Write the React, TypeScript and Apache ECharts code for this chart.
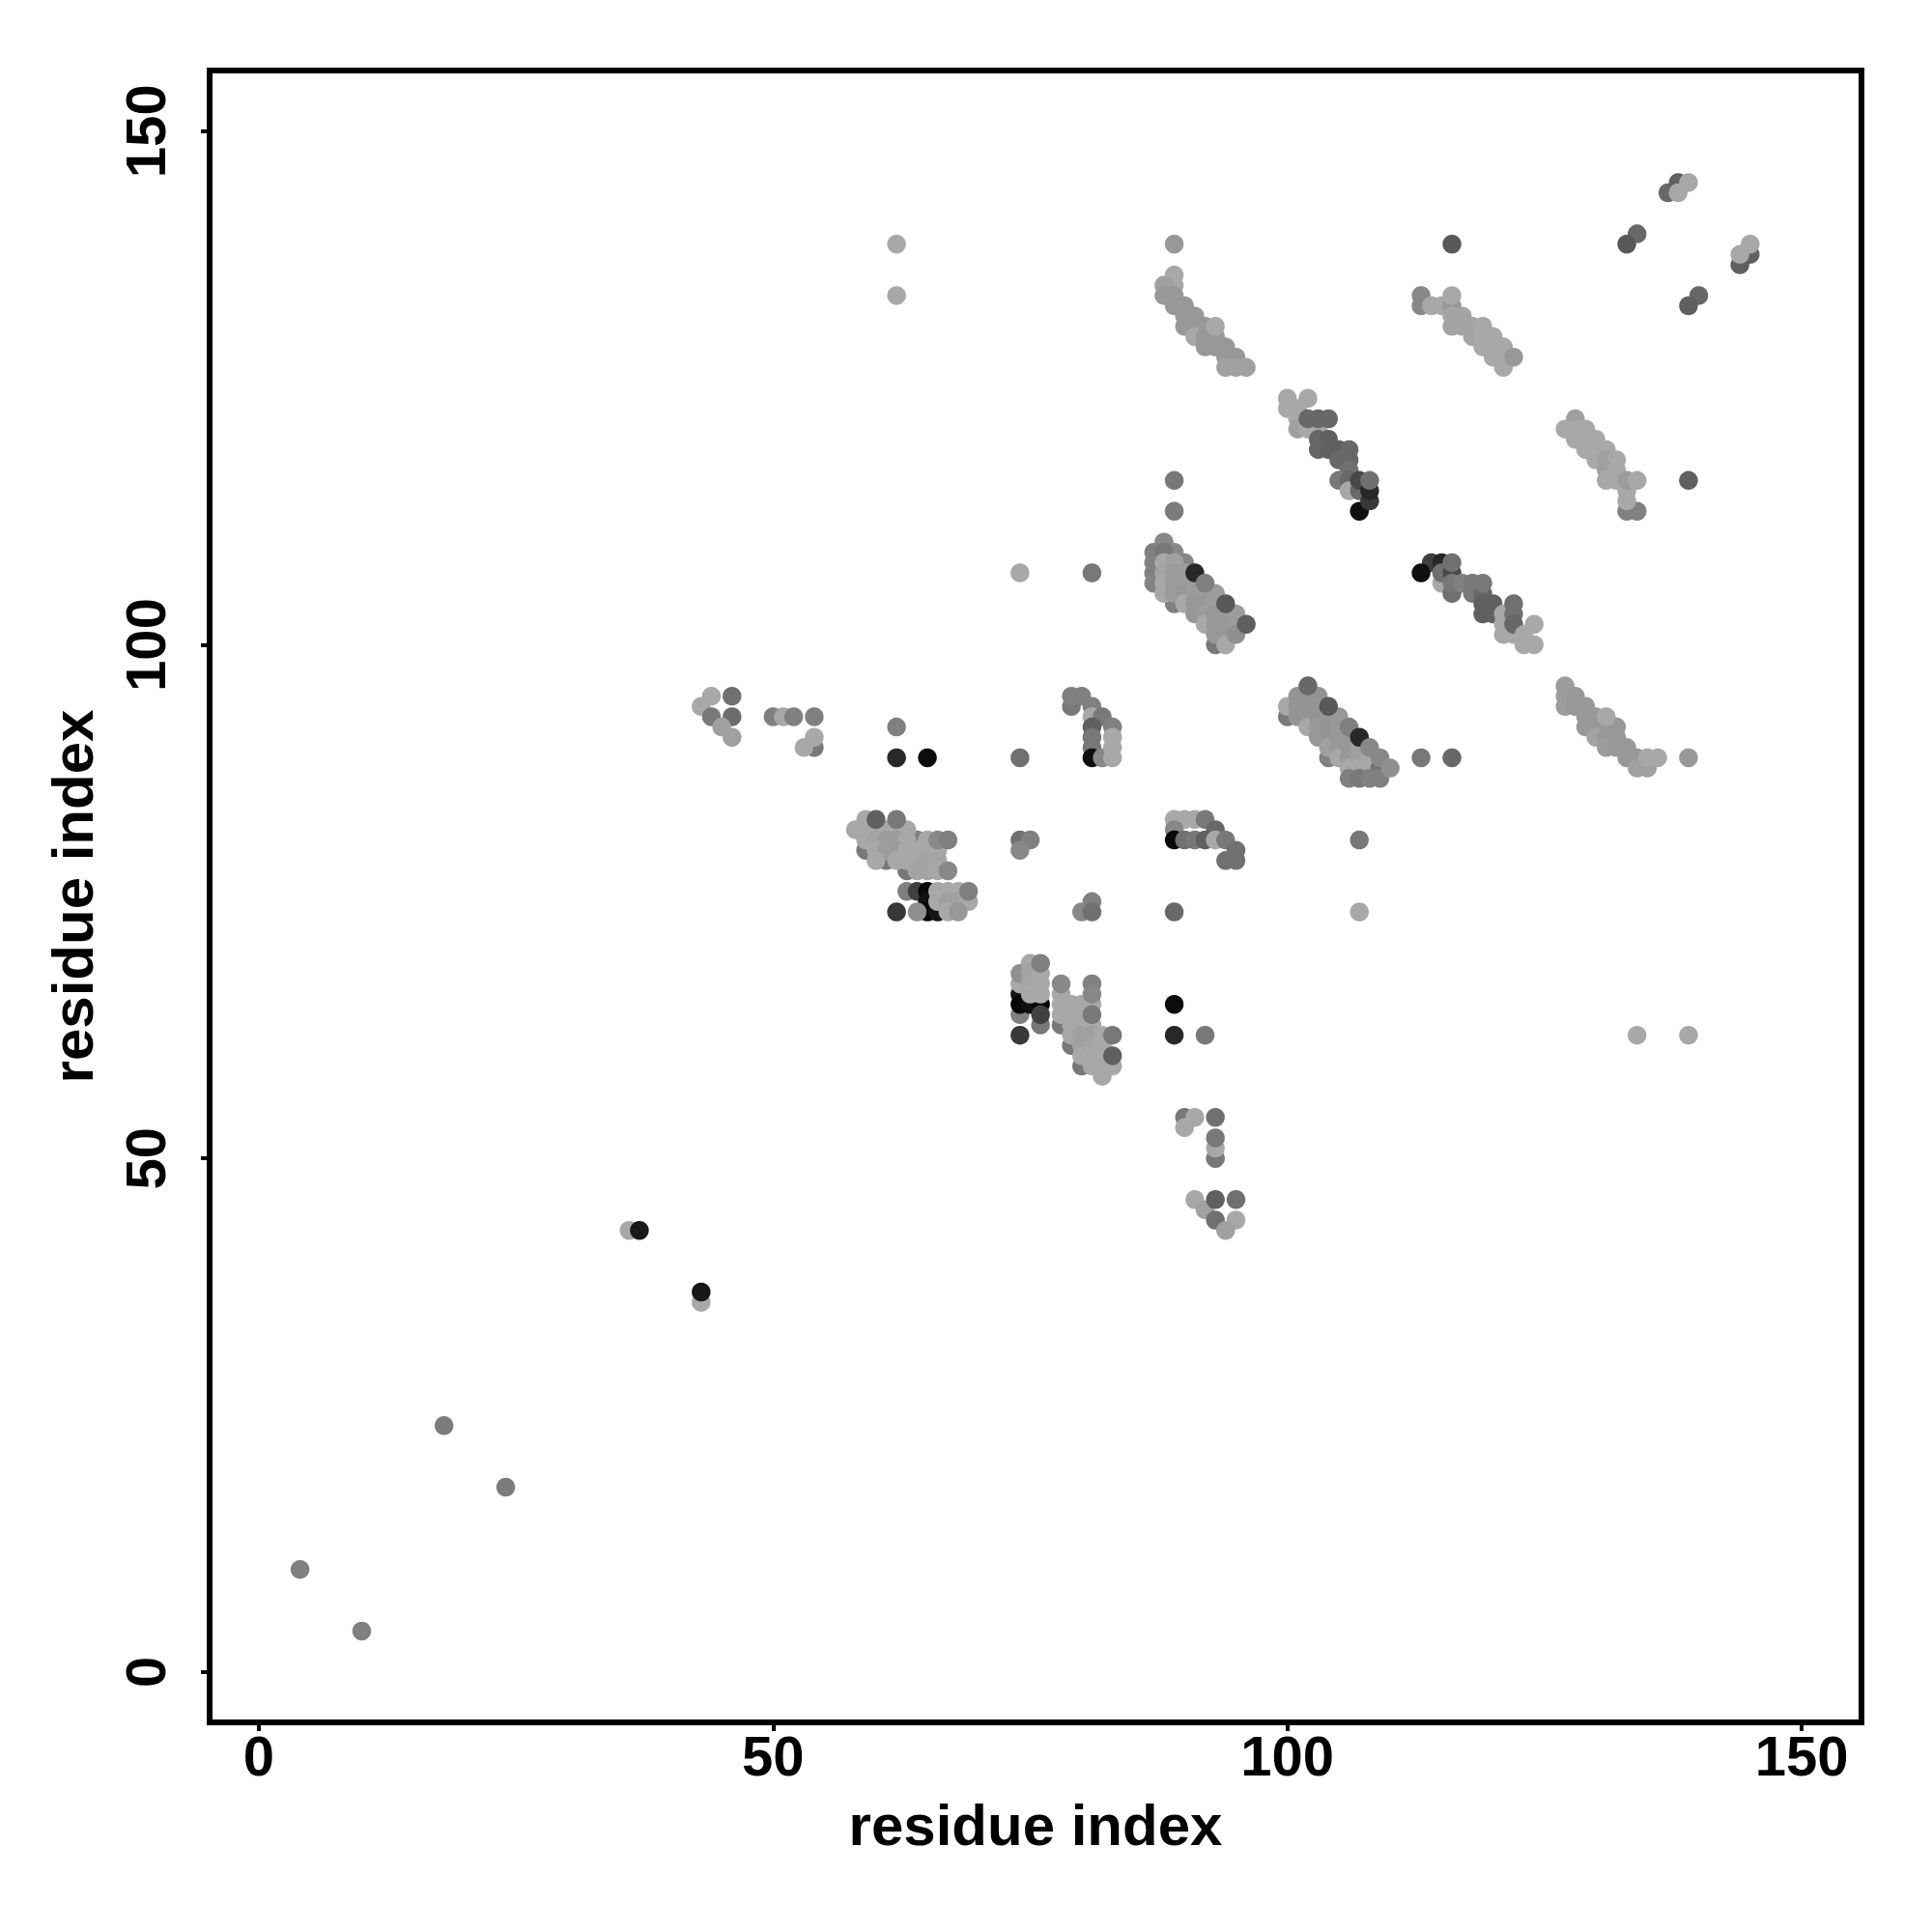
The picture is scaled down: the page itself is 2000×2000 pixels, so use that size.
import React, { useEffect, useRef } from "react";
import * as echarts from "echarts";

type Pt = [number, number, number];

const tickValues = [0, 50, 100, 150];
const xLabel = "residue index";
const yLabel = "residue index";

const sparsePairs: Pt[] = [
  [4, 10, 0x80], [10, 4, 0x80], [18, 24, 0x7c], [24, 18, 0x7c],
  [36, 43, 0xa8], [37, 43, 0x1a], [43, 36, 0xa8], [43, 37, 0x18],
  [62, 139, 0xa8], [62, 134, 0xa8], [134, 62, 0xa8], [139, 62, 0xa8],
  [89, 74, 0x68], [107, 81, 0x78], [107, 74, 0xa8], [74, 107, 0xa8], [81, 107, 0x78],
  [89, 116, 0x78], [89, 113, 0x7c], [116, 139, 0x58], [139, 116, 0x60], [107, 113, 0x10],
  [113, 89, 0x78], [116, 89, 0x68], [139, 89, 0x98], [89, 65, 0x0c], [89, 62, 0x28], [92, 62, 0x78],
  [137, 144, 0x68], [138, 145, 0x60], [138, 144, 0xa8], [139, 145, 0xa8],
  [134, 140, 0x68], [133, 139, 0x58], [144, 137, 0x60], [145, 138, 0x60], [144, 138, 0xa8], [145, 139, 0xa8],
  [140, 134, 0x68], [139, 133, 0x60],
];

const upperLeftGroup: Pt[] = [
  [44, 95, 0xa8], [43, 94, 0xa8], [46, 95, 0x70], [44, 93, 0x78], [46, 93, 0x6c], [45, 92, 0xa0], [46, 91, 0xa0],
  [50, 93, 0x80], [51, 93, 0xa8], [52, 93, 0x80], [54, 93, 0x80], [54, 90, 0x78], [53, 90, 0xa8], [54, 91, 0xa8],
  [62, 92, 0x80], [62, 89, 0x28], [65, 89, 0x0c], [74, 89, 0x70],
  [79, 94, 0x78], [79, 95, 0x80], [80, 95, 0x80], [81, 94, 0x80], [81, 93, 0xa8], [82, 93, 0x78], [83, 92, 0x80],
  [81, 92, 0x60], [81, 91, 0x78], [81, 90, 0x78], [81, 89, 0x10], [82, 89, 0x88],
  [83, 91, 0xa8], [83, 90, 0xa8], [83, 89, 0xa8],
];

const helixA: Pt[] = [
  [59, 80, 0x78], [61, 79, 0x78], [63, 78, 0x78], [64, 81, 0x80],
  [59, 83, 0xa8], [58, 82, 0xa8], [59, 82, 0xa8], [60, 82, 0xa8], [61, 82, 0xa8], [62, 82, 0xa8], [63, 82, 0xa8],
  [59, 81, 0xa8], [60, 81, 0xa4], [61, 81, 0x9c], [62, 81, 0x9c], [63, 81, 0xa8], [65, 81, 0xa8],
  [60, 80, 0xa8], [61, 80, 0x9c], [62, 80, 0x9c], [63, 80, 0xa8], [64, 80, 0xa8], [65, 80, 0xa8], [66, 80, 0xa8],
  [60, 79, 0xa8], [62, 79, 0xa8], [63, 79, 0xa8], [64, 79, 0xa8], [65, 79, 0xa4], [66, 79, 0xa4],
  [64, 78, 0xa4], [65, 78, 0xa4], [66, 78, 0xa8],
  [60, 83, 0x60], [62, 83, 0x78], [66, 81, 0x88], [67, 81, 0x80], [67, 78, 0x88],
];

const helixB: Pt[] = [
  [63, 76, 0x80], [64, 76, 0x40], [65, 76, 0x08], [65, 75, 0x10], [65, 74, 0x08], [66, 74, 0x14],
  [64, 74, 0x90], [62, 74, 0x38],
  [66, 76, 0xa8], [67, 76, 0xa8], [68, 76, 0xa8], [66, 75, 0xa8], [67, 75, 0xa0], [68, 75, 0xa0], [69, 75, 0xa8],
  [67, 74, 0xa8], [68, 74, 0x98], [69, 76, 0x80],
  [74, 81, 0x70], [75, 81, 0x80], [74, 80, 0x88], [81, 75, 0x80], [80, 74, 0x88], [81, 74, 0x70],
];

const stripC: Pt[] = [
  [74, 62, 0x38], [74, 64, 0x80], [74, 66, 0x18], [74, 65, 0x08], [75, 65, 0x10], [76, 65, 0x08],
  [74, 67, 0xa8], [74, 68, 0x90], [75, 69, 0xa8], [75, 68, 0xa4], [75, 67, 0xa4], [75, 66, 0xa8],
  [76, 68, 0xa8], [76, 67, 0xa8], [76, 66, 0xa8], [76, 63, 0x78], [76, 64, 0x40], [76, 69, 0x80],
];

const stripD: Pt[] = [
  [78, 63, 0x78], [79, 61, 0x78], [80, 59, 0x78],
  [78, 66, 0xa8], [78, 65, 0xa8], [78, 64, 0xa8], [79, 65, 0xa8], [79, 64, 0xa8], [79, 63, 0xa8], [79, 62, 0xa8],
  [80, 65, 0xa8], [80, 64, 0xa8], [80, 63, 0xa8], [80, 62, 0xa0], [80, 61, 0xa0], [80, 60, 0xa8],
  [81, 65, 0xa8], [81, 63, 0xa8], [81, 62, 0xa0], [81, 61, 0xa4], [81, 60, 0xa8], [81, 59, 0xa8],
  [82, 62, 0xa8], [82, 61, 0xa8], [82, 60, 0xa8], [82, 59, 0xa8], [82, 58, 0xa8], [83, 59, 0xa8],
  [78, 67, 0x88], [81, 67, 0x80], [81, 66, 0x88], [81, 64, 0x78], [83, 62, 0x78], [83, 60, 0x60],
];

const lowerStrand: Pt[] = [
  [90, 54, 0x78], [91, 54, 0xa8], [90, 53, 0xa8], [93, 54, 0x70], [93, 50, 0x78], [93, 51, 0xa8], [93, 52, 0x78],
  [91, 46, 0xa8], [92, 45, 0xa0], [93, 46, 0x60], [95, 46, 0x70], [93, 44, 0x70], [95, 44, 0xa8], [94, 43, 0xa0],
];

const topStrandE: Pt[] = [
  [89, 139, 0x98], [89, 136, 0xa8], [89, 135, 0xa8], [88, 135, 0xa0], [88, 134, 0x98], [89, 134, 0x98], [89, 133, 0x98],
  [90, 133, 0x98], [90, 132, 0x98], [91, 132, 0x98], [90, 131, 0x98], [91, 131, 0x98], [92, 131, 0x98], [91, 130, 0xa8],
  [92, 130, 0x98], [93, 130, 0x98], [92, 129, 0x98], [93, 129, 0x98], [94, 129, 0x98], [94, 128, 0x98], [95, 128, 0x98],
  [94, 127, 0xa0], [95, 127, 0xa0], [96, 127, 0xa0], [93, 131, 0xa8],
];

const topStrandF: Pt[] = [
  [113, 134, 0x88], [113, 133, 0x88], [114, 133, 0xa8], [115, 133, 0xa8], [116, 133, 0x98], [116, 134, 0xa8],
  [116, 132, 0xa4], [116, 131, 0xa4], [117, 132, 0xa4], [117, 131, 0xa4], [118, 131, 0xa4], [118, 130, 0xa4],
  [119, 131, 0xa8], [119, 130, 0xa8], [119, 129, 0xa8], [120, 130, 0xa8], [120, 129, 0xa8], [120, 128, 0xa8],
  [121, 129, 0xa8], [121, 128, 0xa8], [121, 127, 0xa8], [122, 128, 0x98],
];

const strandG: Pt[] = [
  [100, 124, 0xa8], [102, 124, 0xa8], [100, 123, 0xa8], [101, 123, 0xa8], [101, 122, 0xa8], [101, 121, 0xa0],
  [102, 121, 0xa8], [103, 121, 0xa8], [102, 122, 0x68], [103, 122, 0x68], [104, 122, 0x68],
  [103, 120, 0x68], [104, 120, 0x60], [103, 119, 0x68], [104, 119, 0x60], [105, 119, 0x60], [106, 119, 0x68],
  [105, 118, 0x68], [106, 118, 0x68], [106, 117, 0x70], [105, 116, 0x78], [106, 116, 0x68], [106, 115, 0xa8],
  [107, 115, 0x68], [107, 116, 0x48], [108, 114, 0x38], [108, 115, 0x28], [108, 116, 0x70],
];

const strandH: Pt[] = [
  [128, 122, 0xa0], [127, 121, 0xa8], [128, 121, 0xa8], [129, 121, 0xa8], [128, 120, 0xa8], [129, 120, 0xa8], [130, 120, 0xa8],
  [129, 119, 0xa8], [130, 119, 0xa8], [131, 119, 0xa8], [130, 118, 0xa8], [131, 118, 0xa0], [132, 118, 0xa8],
  [131, 117, 0xa0], [132, 117, 0xa8], [131, 116, 0xa8], [132, 116, 0xa8], [133, 113, 0x80], [134, 113, 0x80],
  [133, 115, 0xa8], [133, 114, 0xa8], [133, 116, 0x9c], [134, 116, 0xa8],
];

const blockI: Pt[] = [
  [88, 110, 0x88], [87, 109, 0x80], [87, 108, 0x80], [87, 107, 0x80], [87, 106, 0x84],
  [89, 109, 0x88], [90, 108, 0x88], [88, 109, 0x78],
  [89, 104, 0x80], [93, 100, 0x78],
  [88, 108, 0xa8], [88, 107, 0xa4], [88, 106, 0xa8], [88, 105, 0xa8],
  [89, 108, 0xa0], [89, 107, 0x9c], [89, 106, 0x9c], [89, 105, 0x9c],
  [90, 107, 0x9c], [90, 106, 0x9c], [90, 105, 0x98], [90, 104, 0xa8],
  [91, 106, 0x9c], [91, 105, 0x9c], [91, 104, 0x98], [91, 103, 0x98],
  [92, 105, 0x9c], [92, 104, 0x98], [92, 103, 0x9c], [92, 102, 0xa8],
  [93, 105, 0x9c], [93, 104, 0x9c], [93, 103, 0x98], [93, 102, 0x98], [93, 101, 0x98],
  [94, 103, 0x9c], [94, 102, 0x98], [94, 101, 0x98], [94, 100, 0xa8],
  [95, 103, 0x9c], [95, 102, 0x9c], [95, 101, 0x90],
  [91, 107, 0x28], [92, 106, 0x80], [94, 104, 0x58], [96, 102, 0x60],
];

const blockJ: Pt[] = [
  [114, 108, 0x40], [115, 108, 0x28], [115, 106, 0xa8], [115, 107, 0x70], [116, 107, 0x48], [116, 105, 0x70],
  [116, 106, 0x78], [116, 108, 0x70], [113, 107, 0x10],
  [117, 106, 0x80], [118, 105, 0x78], [118, 106, 0x78], [119, 105, 0x68], [119, 106, 0x78],
  [119, 104, 0x60], [119, 103, 0x60], [120, 104, 0x60], [120, 103, 0x60],
  [121, 103, 0xa8], [121, 102, 0xa8], [121, 101, 0xa8], [122, 101, 0xa8],
  [122, 104, 0x70], [122, 103, 0x70], [122, 102, 0x68],
  [123, 101, 0xa8], [123, 100, 0xa8], [124, 100, 0xa8], [124, 102, 0xa8],
];

const blockK: Pt[] = [
  [100, 93, 0x78], [100, 94, 0xa8], [104, 89, 0x80],
  [101, 95, 0x94], [101, 94, 0x94], [101, 93, 0x94],
  [102, 95, 0x94], [102, 94, 0x94], [102, 93, 0x94], [102, 92, 0xa8],
  [103, 95, 0x94], [103, 94, 0x94], [103, 93, 0x94], [103, 92, 0x98], [103, 91, 0x98],
  [104, 93, 0x98], [104, 92, 0x94], [104, 91, 0x94], [104, 90, 0xa0],
  [105, 93, 0x98], [105, 92, 0x98], [105, 91, 0x98], [105, 90, 0x98], [105, 89, 0xa8],
  [106, 91, 0x98], [106, 90, 0x98], [106, 89, 0x98], [106, 88, 0xa8],
  [107, 90, 0xa0], [107, 89, 0xa0], [107, 88, 0xa8], [108, 89, 0xa8], [108, 88, 0xa8], [109, 88, 0x70],
  [106, 87, 0x80], [107, 87, 0x78], [108, 87, 0x80], [109, 87, 0x80],
  [102, 96, 0x68], [104, 94, 0x58], [106, 92, 0x80], [107, 91, 0x28], [108, 90, 0x88], [109, 89, 0x88], [110, 88, 0x90],
];

const strandL: Pt[] = [
  [127, 96, 0x9c], [127, 95, 0x9c], [127, 94, 0x9c], [128, 95, 0x98], [128, 94, 0x98], [129, 94, 0x98],
  [129, 93, 0x98], [130, 93, 0x98], [129, 92, 0x98], [130, 92, 0x98], [131, 92, 0x98],
  [130, 91, 0xa4], [131, 91, 0x98], [132, 92, 0x98], [132, 91, 0x98], [131, 90, 0x9c], [132, 90, 0x98],
  [133, 90, 0x98], [133, 89, 0x98], [134, 89, 0x98], [134, 88, 0xa0], [135, 88, 0xa0],
  [135, 89, 0xa8], [136, 89, 0xa8], [131, 93, 0xa8],
];

const shortRun: Pt[] = [
  [89, 83, 0xa8], [90, 83, 0xa8], [91, 83, 0xa8], [92, 83, 0x78], [89, 82, 0x88], [93, 82, 0x68], [89, 81, 0x08],
  [90, 81, 0x70], [91, 81, 0x78], [92, 81, 0x60], [93, 81, 0xa8], [94, 81, 0x78],
  [95, 80, 0x70], [94, 79, 0x70], [95, 79, 0x70],
];

const allPoints: Pt[] = [
  ...sparsePairs, ...upperLeftGroup, ...helixA, ...helixB, ...stripC, ...stripD, ...lowerStrand,
  ...topStrandE, ...topStrandF, ...strandG, ...strandH, ...blockI, ...blockJ, ...blockK, ...strandL, ...shortRun,
];

export default function App() {
  const ref = useRef<HTMLDivElement>(null);
  useEffect(() => {
    const chart = echarts.init(ref.current!, undefined, { renderer: "svg" });
    const font = { fontFamily: "Liberation Sans", fontWeight: "bold" as const, color: "#000" };
    chart.setOption({
      animation: false,
      backgroundColor: "#fff",
      grid: { left: 217, top: 73, width: 1710, height: 1710, show: true, borderColor: "#000", borderWidth: 6, backgroundColor: "transparent" },
      xAxis: {
        type: "value", min: -4.79, max: 155.82, name: xLabel, nameLocation: "middle", nameGap: 76,
        nameTextStyle: { ...font, fontSize: 60 }, splitLine: { show: false }, axisLine: { show: false, onZero: false },
        axisTick: { show: true, length: 9, lineStyle: { color: "#000", width: 4 }, customValues: tickValues },
        axisLabel: { ...font, fontSize: 58, margin: 5, customValues: tickValues, showMinLabel: true, showMaxLabel: true },
      },
      yAxis: {
        type: "value", min: -4.89, max: 155.9, name: yLabel, nameLocation: "middle", nameGap: 112,
        nameTextStyle: { ...font, fontSize: 60 }, splitLine: { show: false }, axisLine: { show: false, onZero: false },
        axisTick: { show: true, length: 9, lineStyle: { color: "#000", width: 4 }, customValues: tickValues },
        axisLabel: { ...font, fontSize: 58, margin: 67, rotate: 90, align: "center", verticalAlign: "middle", customValues: tickValues },
      },
      series: [{
        type: "scatter", symbol: "circle", symbolSize: 19.5, clip: false,
        data: allPoints.map(([x, y, g]) => ({ value: [x, y], itemStyle: { color: `rgb(${g},${g},${g})`, opacity: 1 } })),
      }],
    });
    return () => chart.dispose();
  }, []);
  return <div ref={ref} style={{ position: "fixed", left: 0, top: 0, width: 2000, height: 2000 }} />;
}
